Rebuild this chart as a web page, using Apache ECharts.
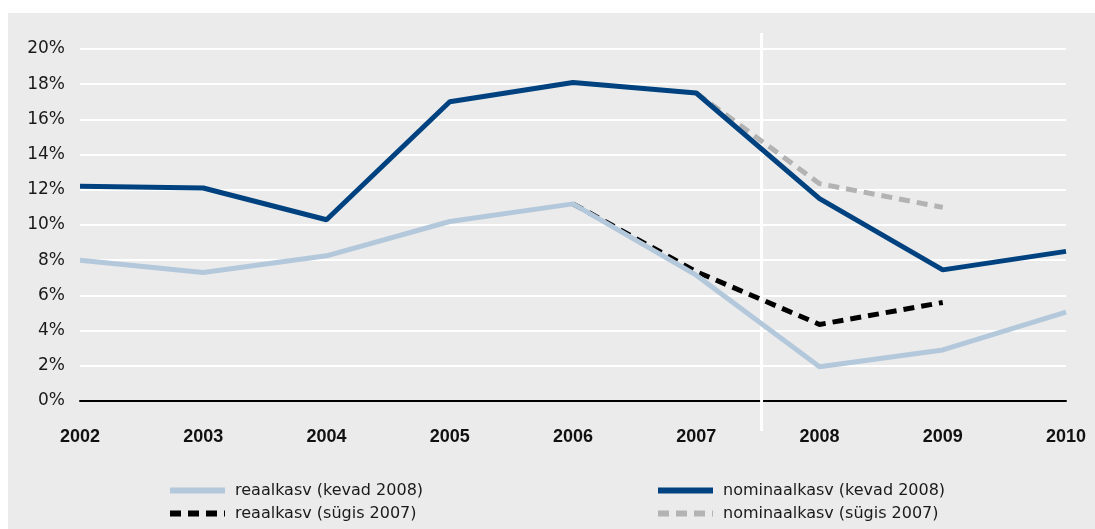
<!DOCTYPE html>
<html>
<head>
<meta charset="utf-8">
<script src="https://cdn.jsdelivr.net/npm/echarts@6/dist/echarts.min.js"></script>
<style>
html,body{margin:0;padding:0;background:#fff;}
#wrap{position:absolute;left:8px;top:13px;width:1087px;height:516px;background:#ebebeb;}
#c{position:absolute;left:0;top:0;width:1095px;height:529px;}
</style>
</head>
<body>
<div id="wrap"></div>
<div id="c"></div>
<script>
const years = ['2002','2003','2004','2005','2006','2007','2008','2009','2010'];
const realSpring2008 = [8.0, 7.3, 8.25, 10.2, 11.2, 7.15, 1.95, 2.9, 5.05];
const nominalSpring2008 = [12.2, 12.1, 10.3, 17.0, 18.1, 17.5, 11.5, 7.45, 8.5];
const realAutumn2007 = [null, null, null, null, 11.2, 7.35, 4.35, 5.6, null];
const nominalAutumn2007 = [null, null, null, null, null, 17.5, 12.35, 11.0, null];
const names = ['reaalkasv (kevad 2008)', 'nominaalkasv (kevad 2008)', 'reaalkasv (sügis 2007)', 'nominaalkasv (sügis 2007)'];
const dividerFraction = 0.53; // divider between 2007 and 2008

const chart = echarts.init(document.getElementById('c'), null, {renderer: 'canvas'});
const legendText = {fontFamily: 'DejaVu Sans', fontSize: 16, color: '#1a1a1a', lineHeight: 19, padding: [0, 0, 0, 5]};
const legendBase = {orient: 'vertical', top: 481, padding: 0, itemWidth: 55, itemHeight: 14, itemGap: 4,
  textStyle: legendText, itemStyle: {opacity: 0}, lineStyle: {width: 6}};
const option = {
  backgroundColor: 'transparent',
  animation: false,
  grid: {left: 80, right: 29, top: 49, bottom: 128, containLabel: false},
  xAxis: {
    type: 'category', data: years, boundaryGap: false,
    axisLine: {show: true, onZero: true, lineStyle: {color: '#000', width: 2}},
    axisTick: {show: false},
    axisLabel: {margin: 27, fontFamily: 'Liberation Sans', fontWeight: 'bold', fontSize: 18, color: '#111'},
    splitLine: {show: false}
  },
  yAxis: {
    type: 'value', min: 0, max: 20, interval: 2,
    axisLine: {show: false}, axisTick: {show: false},
    axisLabel: {margin: 15, formatter: '{value}%', fontFamily: 'DejaVu Sans', fontSize: 17, color: '#1a1a1a'},
    splitLine: {show: true, lineStyle: {color: '#ffffff', width: 2}}
  },
  legend: [
    Object.assign({}, legendBase, {left: 167, data: [names[0], names[2]]}),
    Object.assign({}, legendBase, {left: 655, data: [names[1], names[3]]})
  ],
  series: [
    {name: names[3], type: 'line', data: nominalAutumn2007, symbol: 'none', z: 2,
     lineStyle: {color: '#b3b3b3', width: 5, type: [11, 7]}, itemStyle: {color: '#b3b3b3'}},
    {name: names[2], type: 'line', data: realAutumn2007, symbol: 'none', z: 3,
     lineStyle: {color: '#000000', width: 5, type: [11, 7]}, itemStyle: {color: '#000000'}},
    {name: names[0], type: 'line', data: realSpring2008, symbol: 'none', z: 4,
     lineStyle: {color: '#b4c8dc', width: 5}, itemStyle: {color: '#b4c8dc'}},
    {name: names[1], type: 'line', data: nominalSpring2008, symbol: 'none', z: 5,
     lineStyle: {color: '#00427f', width: 5}, itemStyle: {color: '#00427f'}}
  ]
};
chart.setOption(option);
const xa = chart.convertToPixel({xAxisIndex: 0}, '2007');
const xb = chart.convertToPixel({xAxisIndex: 0}, '2008');
const xd = xa + dividerFraction * (xb - xa);
const yTop = chart.convertToPixel({yAxisIndex: 0}, 20) - 16;
const yBot = chart.convertToPixel({yAxisIndex: 0}, 0) + 30;
chart.setOption({graphic: [{type: 'line', z: 1, silent: true,
  shape: {x1: xd, y1: yTop, x2: xd, y2: yBot},
  style: {stroke: '#ffffff', lineWidth: 3}}]});
</script>
</body>
</html>
